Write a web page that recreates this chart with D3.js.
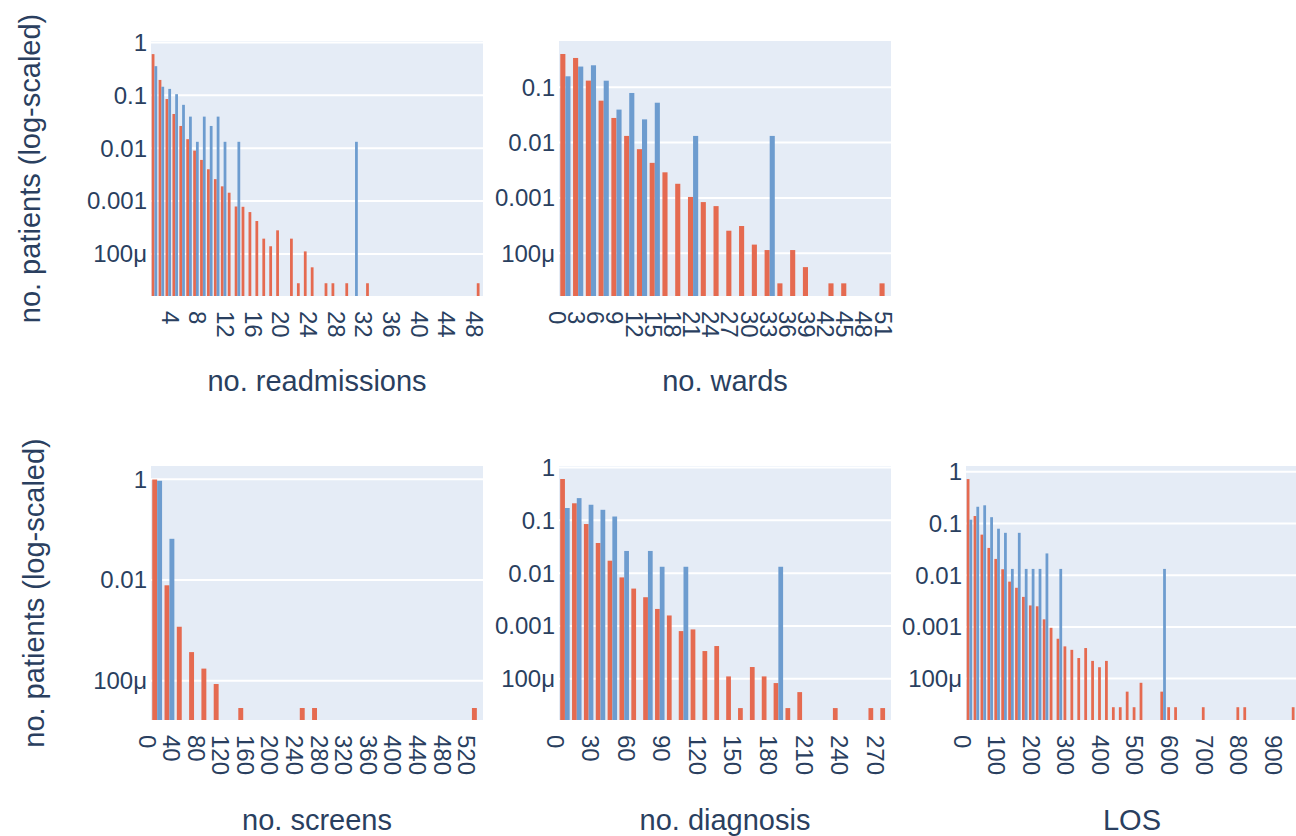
<!DOCTYPE html>
<html>
<head>
<meta charset="utf-8">
<script src="https://cdn.jsdelivr.net/npm/d3@7"></script>
<style>
  body { margin: 0; background: #fff; }
  text { font-family: "Liberation Sans", Arial, sans-serif; fill: #2a3f5f; }
</style>
</head>
<body>
<svg id="misvg"></svg>
<script>
// [bin start, share of patients]  -- red = all patients, blue = subgroup
const readmRed = [[1,0.60],[2,0.195],[3,0.085],[4,0.0443],[5,0.0263],[6,0.0148],[7,0.009],[8,0.006],[9,0.004],[10,0.0026],[11,0.0019],[12,0.00144],[13,0.00079],[14,0.00078],[15,0.00062],[16,0.00042],[17,0.000195],[18,0.00014],[19,0.00028],[21,0.000195],[22,2.8e-5],[23,0.000112],[24,5.6e-5],[26,2.8e-5],[27,2.8e-5],[29,2.8e-5],[32,2.8e-5],[48,2.8e-5]];
const readmBlue = [[1,0.355],[2,0.145],[3,0.132],[4,0.105],[5,0.066],[6,0.0395],[7,0.0132],[8,0.0395],[9,0.0263],[10,0.0395],[11,0.0132],[13,0.0132],[30,0.0132]];

const wardsRed = [[0,0.40],[2,0.339],[4,0.132],[6,0.0573],[8,0.0279],[10,0.0132],[12,0.0076],[14,0.0043],[16,0.0029],[18,0.0018],[20,0.00104],[22,0.00084],[24,0.00071],[26,0.000255],[28,0.00031],[30,0.000143],[32,0.000114],[34,2.85e-5],[36,0.000114],[38,5.6e-5],[42,2.85e-5],[44,2.85e-5],[50,2.85e-5]];
const wardsBlue = [[0,0.158],[2,0.237],[4,0.25],[6,0.1316],[8,0.0395],[10,0.0789],[12,0.0263],[14,0.0526],[20,0.0132],[32,0.0132]];

const screensRed = [[0,0.99],[20,0.00785],[40,0.00118],[60,0.00037],[80,0.000174],[100,8.6e-5],[140,2.87e-5],[240,2.87e-5],[260,2.87e-5],[520,2.87e-5]];
const screensBlue = [[0,0.934],[20,0.0658]];

const diagRed = [[0,0.605],[10,0.21],[20,0.085],[30,0.0372],[40,0.0172],[50,0.0083],[60,0.0051],[70,0.0035],[80,0.0021],[90,0.00158],[100,0.0008],[110,0.00086],[120,0.000335],[130,0.000417],[140,0.000111],[150,2.79e-5],[160,0.000167],[170,0.000111],[180,8.3e-5],[190,2.79e-5],[200,5.6e-5],[230,2.79e-5],[260,2.79e-5],[270,2.79e-5]];
const diagBlue = [[0,0.171],[10,0.263],[20,0.197],[30,0.158],[40,0.118],[50,0.0263],[70,0.0263],[80,0.0132],[100,0.0132],[180,0.0132]];

const losRed = [[0,0.72],[20,0.139],[40,0.0607],[60,0.0336],[80,0.0206],[100,0.013],[120,0.0075],[140,0.0057],[160,0.0038],[180,0.0026],[200,0.0025],[220,0.0014],[240,0.00096],[260,0.00059],[280,0.00042],[300,0.00036],[320,0.00025],[340,0.00039],[360,0.00022],[380,0.000166],[400,0.00022],[420,2.8e-5],[440,2.8e-5],[460,5.6e-5],[480,2.8e-5],[500,8.3e-5],[560,5.6e-5],[580,2.8e-5],[600,2.8e-5],[680,2.8e-5],[780,2.8e-5],[800,2.8e-5],[940,2.8e-5]];
const losBlue = [[0,0.118],[20,0.21],[40,0.224],[60,0.132],[80,0.079],[100,0.0658],[120,0.0132],[140,0.0658],[160,0.0132],[180,0.0132],[200,0.0132],[220,0.0263],[260,0.0132],[560,0.0132]];

const readmTicks = [4,8,12,16,20,24,28,32,36,40,44,48];
const wardsTicks = [0,3,6,9,12,15,18,21,24,27,30,33,36,39,42,45,48,51];
const screensTicks = [0,40,80,120,160,200,240,280,320,360,400,440,480,520];
const diagTicks = [0,30,60,90,120,150,180,210,240,270];
const losTicks = [0,100,200,300,400,500,600,700,800,900];

const yTickValues = [1, 0.1, 0.01, 0.001, 1e-4];
const yTickLabels = ["1", "0.1", "0.01", "0.001", "100μ"];

const redColor = "#e56a50";
const blueColor = "#6d9ccf";

const panels = [
  { title: "no. readmissions", red: readmRed, blue: readmBlue, bin: 1, xDom: [1, 49], yExp: [-4.794, 0.026], xTicks: readmTicks, yTicks: yTickValues, col: 0, row: 0 },
  { title: "no. wards", red: wardsRed, blue: wardsBlue, bin: 2, xDom: [0, 52], yExp: [-4.774, -0.163], xTicks: wardsTicks, yTicks: yTickValues, col: 1, row: 0 },
  { title: "no. screens", red: screensRed, blue: screensBlue, bin: 20, xDom: [0, 540], yExp: [-4.78, 0.264], xTicks: screensTicks, yTicks: [1, 0.01, 1e-4], col: 0, row: 1 },
  { title: "no. diagnosis", red: diagRed, blue: diagBlue, bin: 10, xDom: [0, 280], yExp: [-4.78, 0.028], xTicks: diagTicks, yTicks: yTickValues, col: 1, row: 1 },
  { title: "LOS", red: losRed, blue: losBlue, bin: 20, xDom: [0, 960], yExp: [-4.80, 0.11], xTicks: losTicks, yTicks: yTickValues, col: 2, row: 1 }
];

const colX = [151, 559, 966];
const rowY = [41, 466];
const rowH = [255, 254];
const labelShift = [10, 12.5]; // rotated tick label offset per row
const panelW = 332;
const bargap = 0.2;

const svg = d3.select("#misvg")
  .attr("width", 1296)
  .attr("height", 836);

panels.forEach(function(p, i) {
  const left = colX[p.col], top = rowY[p.row], h = rowH[p.row];
  const g = svg.append("g").attr("transform", "translate(" + left + "," + top + ")");

  const x = d3.scaleLinear().domain(p.xDom).range([0, panelW]);
  const y = d3.scaleLog().domain([Math.pow(10, p.yExp[0]), Math.pow(10, p.yExp[1])]).range([h, 0]);

  g.append("clipPath").attr("id", "clip" + i)
    .append("rect").attr("width", panelW).attr("height", h);

  g.append("rect")
    .attr("width", panelW)
    .attr("height", h)
    .attr("fill", "#e5ecf6");

  const yt = p.yTicks.filter(function(v) { return y(v) >= -0.5 && y(v) <= h; });

  g.selectAll(".grid")
    .data(yt)
    .enter().append("line")
    .attr("x1", 0).attr("x2", panelW)
    .attr("y1", function(d) { return y(d); })
    .attr("y2", function(d) { return y(d); })
    .attr("stroke", "#fff")
    .attr("stroke-width", 2);

  const bars = g.append("g").attr("clip-path", "url(#clip" + i + ")");
  const bw = (x(p.bin) - x(0)) * (1 - bargap) / 2;

  bars.selectAll(".red")
    .data(p.red)
    .enter().append("rect")
    .attr("x", function(d) { return x(d[0] + p.bin * bargap / 2); })
    .attr("width", bw)
    .attr("y", function(d) { return y(d[1]); })
    .attr("height", function(d) { return h - y(d[1]); })
    .attr("fill", redColor);

  bars.selectAll(".blue")
    .data(p.blue)
    .enter().append("rect")
    .attr("x", function(d) { return x(d[0] + p.bin * bargap / 2) + bw; })
    .attr("width", bw)
    .attr("y", function(d) { return y(d[1]); })
    .attr("height", function(d) { return h - y(d[1]); })
    .attr("fill", blueColor);

  // y tick labels
  g.selectAll(".ylab")
    .data(yt)
    .enter().append("text")
    .attr("x", -4)
    .attr("y", function(d) { return y(d); })
    .attr("dy", "0.35em")
    .attr("text-anchor", "end")
    .style("font-size", "24px")
    .text(function(d) { return yTickLabels[yTickValues.indexOf(d)]; });

  // x tick labels, rotated
  g.selectAll(".xlab")
    .data(p.xTicks)
    .enter().append("text")
    .attr("transform", function(d) { return "translate(" + x(d) + "," + (h + 15) + ") rotate(90)"; })
    .attr("dy", labelShift[p.row])
    .attr("text-anchor", "start")
    .style("font-size", "24px")
    .text(function(d) { return d; });

  g.append("text")
    .attr("x", panelW / 2)
    .attr("y", p.row === 0 ? 350 : 364)
    .attr("text-anchor", "middle")
    .style("font-size", "29px")
    .text(p.title);
});

// shared y titles
[{ cx: 30, row: 0 }, { cx: 34, row: 1 }].forEach(function(t) {
  svg.append("text")
    .attr("transform", "translate(" + t.cx + "," + (rowY[t.row] + rowH[t.row] / 2) + ") rotate(-90)")
    .attr("dy", "0.35em")
    .attr("text-anchor", "middle")
    .style("font-size", "29px")
    .text("no. patients (log-scaled)");
});
</script>
</body>
</html>
